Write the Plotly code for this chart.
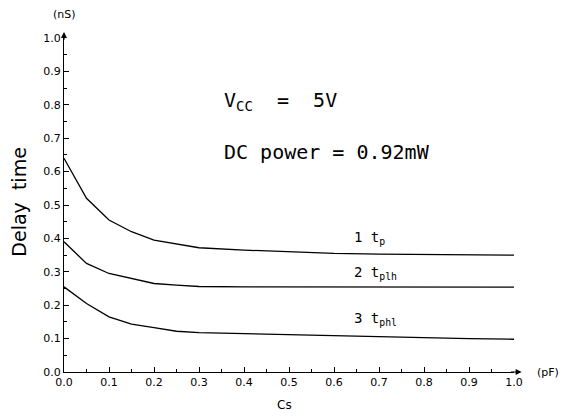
import plotly.graph_objects as go

cs = [0.0, 0.05, 0.1, 0.15, 0.2, 0.25, 0.3, 0.4, 0.5, 0.6, 0.7, 0.8, 0.9, 1.0]
tp = [0.64, 0.52, 0.455, 0.42, 0.395, 0.383, 0.372, 0.365, 0.36, 0.355, 0.353, 0.352, 0.351, 0.35]
tplh = [0.39, 0.325, 0.295, 0.28, 0.265, 0.26, 0.256, 0.255, 0.255, 0.255, 0.255, 0.255, 0.254, 0.254]
tphl = [0.255, 0.205, 0.165, 0.143, 0.133, 0.122, 0.118, 0.115, 0.11, 0.107, 0.105, 0.102, 0.1, 0.098]

series = [("1 t<sub>p</sub>", tp, 0.40), ("2 t<sub>plh</sub>", tplh, 0.295), ("3 t<sub>phl</sub>", tphl, 0.16)]

x_ticks = [0.0, 0.1, 0.2, 0.3, 0.4, 0.5, 0.6, 0.7, 0.8, 0.9, 1.0]
x_labels = ["0.0", "0.1", "0.2", "0.3", "0.4", "0.5", "0.6", "0.7", "0.8", "0.9", "1.0"]
y_ticks = x_ticks
y_labels = x_labels

FONT = "DejaVu Sans"
MONO = "DejaVu Sans Mono"
fig = go.Figure()
for name, vals, ly in series:
    fig.add_trace(go.Scatter(x=cs, y=vals, mode="lines", line=dict(color="black", width=1.3),
                             showlegend=False, name=name))
    fig.add_annotation(x=0.64, y=ly, text=name, showarrow=False, xanchor="left", yanchor="middle",
                       font=dict(family=MONO, size=14, color="black"))

fig.add_annotation(x=0.35, y=0.81, text="V<sub>CC</sub>  =  5V", showarrow=False, xanchor="left",
                   font=dict(family=MONO, size=20, color="black"))
fig.add_annotation(x=0.35, y=0.66, text="DC power = 0.92mW", showarrow=False, xanchor="left",
                   font=dict(family=MONO, size=20, color="black"))

# axis arrows
fig.add_annotation(x=1.017, y=0, ax=0.99, ay=0, xref="x", yref="y", axref="x", ayref="y",
                   showarrow=True, arrowhead=2, arrowsize=1, arrowwidth=1.2, arrowcolor="black", text="")
fig.add_annotation(x=0, y=1.018, ax=0, ay=0.99, xref="x", yref="y", axref="x", ayref="y",
                   showarrow=True, arrowhead=2, arrowsize=1, arrowwidth=1.2, arrowcolor="black", text="")

fig.add_annotation(xref="paper", yref="paper", x=1.076, y=0, text="(pF)", showarrow=False,
                   xanchor="center", yanchor="middle", font=dict(family=FONT, size=11, color="black"))
fig.add_annotation(xref="paper", yref="paper", x=0.002, y=1.069, text="(nS)", showarrow=False,
                   xanchor="center", yanchor="middle", font=dict(family=FONT, size=11, color="black"))
fig.add_annotation(xref="paper", yref="paper", x=0.49, y=-0.099, text="Cs", showarrow=False,
                   xanchor="center", yanchor="middle", font=dict(family=FONT, size=12, color="black"))
fig.add_annotation(xref="paper", yref="paper", x=-0.1, y=0.51, text="Delay  time", textangle=-90,
                   showarrow=False, xanchor="center", yanchor="middle",
                   font=dict(family=FONT, size=19, color="black"))

axis_common = dict(showgrid=False, zeroline=False, showline=True, linecolor="black", linewidth=1.3,
                   ticks="inside", ticklen=5, tickcolor="black", tickwidth=1,
                   tickfont=dict(family=FONT, size=11, color="black"),
                   minor=dict(ticks="inside", ticklen=3, dtick=0.05, tickcolor="black"))

fig.update_xaxes(range=[0, 1.0], tickvals=x_ticks, ticktext=x_labels, **axis_common)
fig.update_yaxes(range=[0, 1.0], tickvals=y_ticks, ticktext=y_labels, **axis_common)

fig.update_layout(width=563, height=418, margin=dict(l=64, r=49, t=38, b=46),
                  paper_bgcolor="white", plot_bgcolor="white")
fig.write_html("out.html")
